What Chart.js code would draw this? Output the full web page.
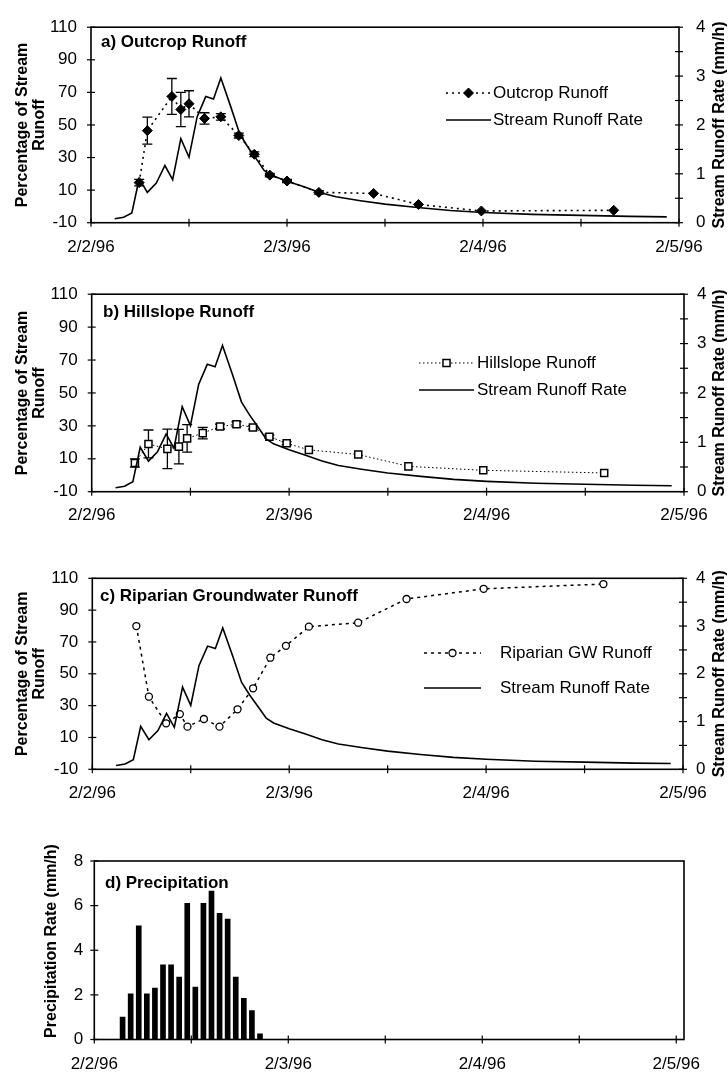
<!DOCTYPE html>
<html>
<head>
<meta charset="utf-8">
<script src="https://cdn.jsdelivr.net/npm/chart.js@4.4.1/dist/chart.umd.min.js"></script>
<style>
  body { margin: 0; background: #fff; width: 728px; height: 1074px; position: relative; overflow: hidden; }
  .panel { position: absolute; left: 0; width: 728px; }
</style>
</head>
<body>
<div class="panel" style="top:0;height:270px"><canvas id="chartA"></canvas></div>
<div class="panel" style="top:270px;height:270px"><canvas id="chartB"></canvas></div>
<div class="panel" style="top:540px;height:280px"><canvas id="chartC"></canvas></div>
<div class="panel" style="top:820px;height:254px"><canvas id="chartD"></canvas></div>
<script>
// x axis: hours after 2/2/96 00:00
const dayLabels = ['2/2/96', '2/3/96', '2/4/96', '2/5/96'];
const xTickHours = [0, 12, 24, 36, 48, 60, 72];
const pctTicks = [-10, 0, 10, 20, 30, 40, 50, 60, 70, 80, 90, 100, 110];
const rateTicks = [0, 0.5, 1, 1.5, 2, 2.5, 3, 3.5, 4];
const precipTicks = [0, 1, 2, 3, 4, 5, 6, 7, 8];

// stream runoff rate (mm/h), same in panels a-c
const streamHours = [2.9, 4.0, 5.0, 5.9, 6.9, 8.0, 9.05, 10.0, 11.0, 12.0, 13.0, 14.05, 15.0, 15.9, 17.1, 18.2, 19.2, 20.3, 21.2, 22.1, 24, 26, 28, 30, 33, 36, 40, 44, 48, 54, 60, 66, 70.5];
const streamRate = [0.08, 0.11, 0.2, 0.9, 0.62, 0.81, 1.17, 0.88, 1.72, 1.34, 2.17, 2.58, 2.53, 2.96, 2.38, 1.82, 1.55, 1.29, 1.07, 0.97, 0.85, 0.74, 0.62, 0.53, 0.45, 0.38, 0.31, 0.25, 0.21, 0.17, 0.15, 0.13, 0.12];

// a) outcrop runoff (% of stream runoff)
const outcropHours = [5.9, 6.9, 9.9, 11.0, 12.0, 13.9, 15.9, 18.1, 20.0, 21.9, 24.0, 27.9, 34.6, 40.1, 47.8, 64.0];
const outcropPct = [14.6, 46.5, 67.5, 59.5, 63, 54, 55, 43.5, 32, 19.2, 15.6, 8.6, 8, 1.2, -2.8, -2.4];
const outcropErr = [2, 8.3, 11, 10.5, 8, 3.5, 2, 1.5, 1.5, 1, 1, 1, 0, 0, 0, 0];

// b) hillslope runoff
const hillHours = [5.25, 6.9, 9.2, 10.6, 11.6, 13.5, 15.6, 17.6, 19.6, 21.6, 23.7, 26.4, 32.4, 38.5, 47.6, 62.3];
const hillPct = [7.4, 19, 16, 17.4, 22.4, 25.6, 29.6, 31, 29, 23.4, 19.4, 15.4, 12.6, 5.4, 3, 1.4];
const hillErr = [2.5, 8.5, 12, 10.5, 8.3, 3.5, 1.5, 1.5, 1, 1, 1, 0, 0, 0, 0, 0];

// c) riparian groundwater runoff
const ripHours = [5.37, 6.9, 9.0, 10.67, 11.6, 13.6, 15.5, 17.7, 19.6, 21.7, 23.6, 26.4, 32.4, 38.3, 47.7, 62.3];
const ripPct = [80, 35.6, 18.9, 24.7, 16.8, 21.6, 16.8, 27.7, 40.9, 60.1, 67.6, 79.6, 82.1, 97, 103.4, 106.4];

// d) precipitation (mm/h), hourly
const precipHours = [3.5, 4.5, 5.5, 6.5, 7.5, 8.5, 9.5, 10.5, 11.5, 12.5, 13.5, 14.5, 15.5, 16.5, 17.5, 18.5, 19.5, 20.5];
const precipRate = [1.0, 2.05, 5.1, 2.05, 2.3, 3.35, 3.35, 2.8, 6.1, 2.35, 6.1, 6.65, 5.65, 5.4, 2.8, 1.85, 1.3, 0.25];

const FONT = '"Liberation Sans", Arial, Helvetica, sans-serif';
const toXY = (xs, ys) => xs.map((x, i) => ({ x, y: ys[i] }));

const figureDecor = {
  id: 'figureDecor',
  beforeDatasetsDraw(chart) {
    const { ctx, scales } = chart;
    ctx.save();
    ctx.strokeStyle = '#000';
    ctx.lineWidth = 1.3;
    chart.data.datasets.forEach(ds => {
      if (!ds.errors) return;
      const ys = scales[ds.yAxisID || 'y'];
      ds.data.forEach((p, j) => {
        const e = ds.errors[j];
        if (!e) return;
        const x = scales.x.getPixelForValue(p.x);
        const y1 = ys.getPixelForValue(p.y + e), y2 = ys.getPixelForValue(p.y - e);
        ctx.beginPath();
        ctx.moveTo(x, y1); ctx.lineTo(x, y2);
        ctx.moveTo(x - 5, y1); ctx.lineTo(x + 5, y1);
        ctx.moveTo(x - 5, y2); ctx.lineTo(x + 5, y2);
        ctx.stroke();
      });
    });
    ctx.restore();
  },
  afterDraw(chart, args, o) {
    const { ctx, chartArea: a, scales } = chart;
    ctx.save();
    ctx.strokeStyle = '#000';
    ctx.fillStyle = '#000';
    ctx.lineWidth = 1.6;
    ctx.strokeRect(a.left, a.top, a.right - a.left, a.bottom - a.top);
    // tick marks crossing the axis lines
    ctx.lineWidth = 1.2;
    Object.values(scales).forEach(s => {
      s.ticks.forEach(t => {
        const p = s.getPixelForValue(t.value);
        ctx.beginPath();
        if (s.axis === 'x') { ctx.moveTo(p, a.bottom - 4); ctx.lineTo(p, a.bottom + 4); }
        else {
          const ex = s.position === 'right' ? a.right : a.left;
          ctx.moveTo(ex - 4, p); ctx.lineTo(ex + 4, p);
        }
        ctx.stroke();
      });
    });
    ctx.textBaseline = 'middle';
    // panel title
    if (o.title) {
      ctx.font = 'bold 17px ' + FONT;
      ctx.textAlign = 'left';
      ctx.fillText(o.title.text, o.title.x, o.title.y);
    }
    // rotated axis titles
    ctx.font = 'bold 16px ' + FONT;
    ctx.textAlign = 'center';
    const yc = o.titleY || (a.top + a.bottom) / 2;
    (o.sideTitles || []).forEach(st => {
      ctx.save();
      ctx.translate(st.x, yc);
      ctx.rotate(-Math.PI / 2);
      ctx.fillText(st.text, 0, 0);
      ctx.restore();
    });
    // legend inside the plot
    (o.legend || []).forEach(it => {
      const ds = chart.data.datasets[it.ds];
      ctx.lineWidth = ds.borderWidth;
      ctx.setLineDash(ds.borderDash || []);
      ctx.beginPath();
      ctx.moveTo(it.x0, it.y); ctx.lineTo(it.x1, it.y);
      ctx.stroke();
      ctx.setLineDash([]);
      if (ds.pointRadius) {
        ctx.fillStyle = ds.pointBackgroundColor;
        ctx.strokeStyle = ds.pointBorderColor;
        ctx.lineWidth = ds.pointBorderWidth || 1;
        Chart.helpers.drawPoint(ctx, { pointStyle: ds.pointStyle, radius: ds.pointRadius, borderWidth: ds.pointBorderWidth || 1, rotation: 0 }, (it.x0 + it.x1) / 2, it.y);
        ctx.fillStyle = '#000';
        ctx.strokeStyle = '#000';
      }
      ctx.font = '17px ' + FONT;
      ctx.textAlign = 'left';
      ctx.fillText(ds.label, it.tx, it.y);
    });
    ctx.restore();
  }
};

function xAxis(max, height, pad) {
  return {
    type: 'linear', min: 0, max: max, offset: false,
    afterBuildTicks: s => { s.ticks = xTickHours.map(v => ({ value: v })); },
    afterFit: s => { s.height = height; },
    ticks: {
      autoSkip: false, maxRotation: 0, padding: pad, color: '#000', font: { family: FONT, size: 17 },
      callback: v => (v % 24 === 0 ? dayLabels[v / 24] : '')
    },
    grid: { display: false, drawTicks: false, offset: false },
    border: { display: false }
  };
}

function leftAxis(min, max, tickList, width, pad, labelFn) {
  return {
    type: 'linear', position: 'left', min: min, max: max,
    afterBuildTicks: s => { s.ticks = tickList.map(v => ({ value: v })); },
    afterFit: s => { s.width = width; },
    ticks: { padding: pad, color: '#000', font: { family: FONT, size: 17 }, callback: labelFn },
    grid: { display: false, drawTicks: false },
    border: { display: false }
  };
}

function rateAxis(width, pad) {
  return {
    type: 'linear', position: 'right', min: 0, max: 4,
    afterBuildTicks: s => { s.ticks = rateTicks.map(v => ({ value: v })); },
    afterFit: s => { s.width = width; },
    ticks: { padding: pad, color: '#000', font: { family: FONT, size: 17 }, callback: v => (Number.isInteger(v) ? v : '') },
    grid: { display: false, drawTicks: false },
    border: { display: false }
  };
}

function streamDataset() {
  return {
    label: 'Stream Runoff Rate', data: toXY(streamHours, streamRate), yAxisID: 'y1',
    borderColor: '#000', borderWidth: 1.6, pointRadius: 0, tension: 0, fill: false
  };
}

function runoffChart(id, comp, L) {
  return new Chart(document.getElementById(id), {
    type: 'line',
    data: { datasets: [streamDataset(), comp] },
    options: {
      responsive: true, maintainAspectRatio: false, animation: false, devicePixelRatio: 1,
      layout: { padding: { top: L.top, left: 0, right: 0, bottom: 0 } },
      scales: {
        x: xAxis(72, L.xh, L.xpad),
        y: leftAxis(-10, 110, pctTicks, L.left, 14, v => ((v + 10) % 20 === 0 ? v : '')),
        y1: rateAxis(L.right, L.rpad)
      },
      plugins: {
        legend: { display: false }, tooltip: { enabled: false },
        figureDecor: {
          title: L.title,
          sideTitles: [
            { text: 'Percentage of Stream', x: 23 },
            { text: 'Runoff', x: 40 },
            { text: 'Stream Runoff Rate (mm/h)', x: 720 }
          ],
          legend: [
            { ds: 1, x0: L.lx0, x1: L.lx1, tx: L.tx, y: L.ly[0] },
            { ds: 0, x0: L.lx0, x1: L.lx1, tx: L.tx, y: L.ly[1] }
          ]
        }
      }
    },
    plugins: [figureDecor]
  });
}

runoffChart('chartA', {
  label: 'Outcrop Runoff', data: toXY(outcropHours, outcropPct), yAxisID: 'y', errors: outcropErr,
  borderColor: '#000', borderWidth: 1.6, borderDash: [2, 4], tension: 0,
  pointStyle: 'rectRot', pointRadius: 5, pointBackgroundColor: '#000', pointBorderColor: '#000', pointBorderWidth: 1
}, { top: 22.3, xh: 47.3, xpad: 14, left: 91, right: 49, rpad: 17,
  title: { text: 'a) Outcrop Runoff', x: 101, y: 42 },
  lx0: 446, lx1: 491, tx: 493, ly: [93, 120] });

runoffChart('chartB', {
  label: 'Hillslope Runoff', data: toXY(hillHours, hillPct), yAxisID: 'y', errors: hillErr,
  borderColor: '#000', borderWidth: 1, borderDash: [1.5, 2.5], tension: 0,
  pointStyle: 'rect', pointRadius: 5, pointBackgroundColor: '#fff', pointBorderColor: '#000', pointBorderWidth: 1.5
}, { top: 21.7, xh: 48.3, xpad: 13, left: 91.7, right: 44, rpad: 13,
  title: { text: 'b) Hillslope Runoff', x: 103, y: 42 },
  lx0: 419, lx1: 474, tx: 477, ly: [93, 120] });

runoffChart('chartC', {
  label: 'Riparian GW Runoff', data: toXY(ripHours, ripPct), yAxisID: 'y',
  borderColor: '#000', borderWidth: 1.5, borderDash: [3, 4], tension: 0,
  pointStyle: 'circle', pointRadius: 3.5, pointBackgroundColor: '#fff', pointBorderColor: '#000', pointBorderWidth: 1.3
}, { top: 38.3, xh: 50.7, xpad: 13.5, left: 92.3, right: 45, rpad: 13,
  title: { text: 'c) Riparian Groundwater Runoff', x: 100, y: 56 },
  lx0: 424, lx1: 481, tx: 500, ly: [113, 148] });

new Chart(document.getElementById('chartD'), {
  type: 'bar',
  data: {
    datasets: [{
      label: 'Precipitation', data: toXY(precipHours, precipRate),
      backgroundColor: '#000', borderWidth: 0, barThickness: 5
    }]
  },
  options: {
    responsive: true, maintainAspectRatio: false, animation: false, devicePixelRatio: 1,
    layout: { padding: { top: 41, left: 0, right: 44, bottom: 0 } },
    scales: {
      x: xAxis(72.96, 34.5, 15),
      y: leftAxis(0, 8, precipTicks, 94.3, 11, v => (v % 2 === 0 ? v : ''))
    },
    plugins: {
      legend: { display: false }, tooltip: { enabled: false },
      figureDecor: {
        title: { text: 'd) Precipitation', x: 105, y: 63 },
        titleY: 121,
        sideTitles: [{ text: 'Precipitation Rate (mm/h)', x: 52 }]
      }
    }
  },
  plugins: [figureDecor]
});
</script>
</body>
</html>
